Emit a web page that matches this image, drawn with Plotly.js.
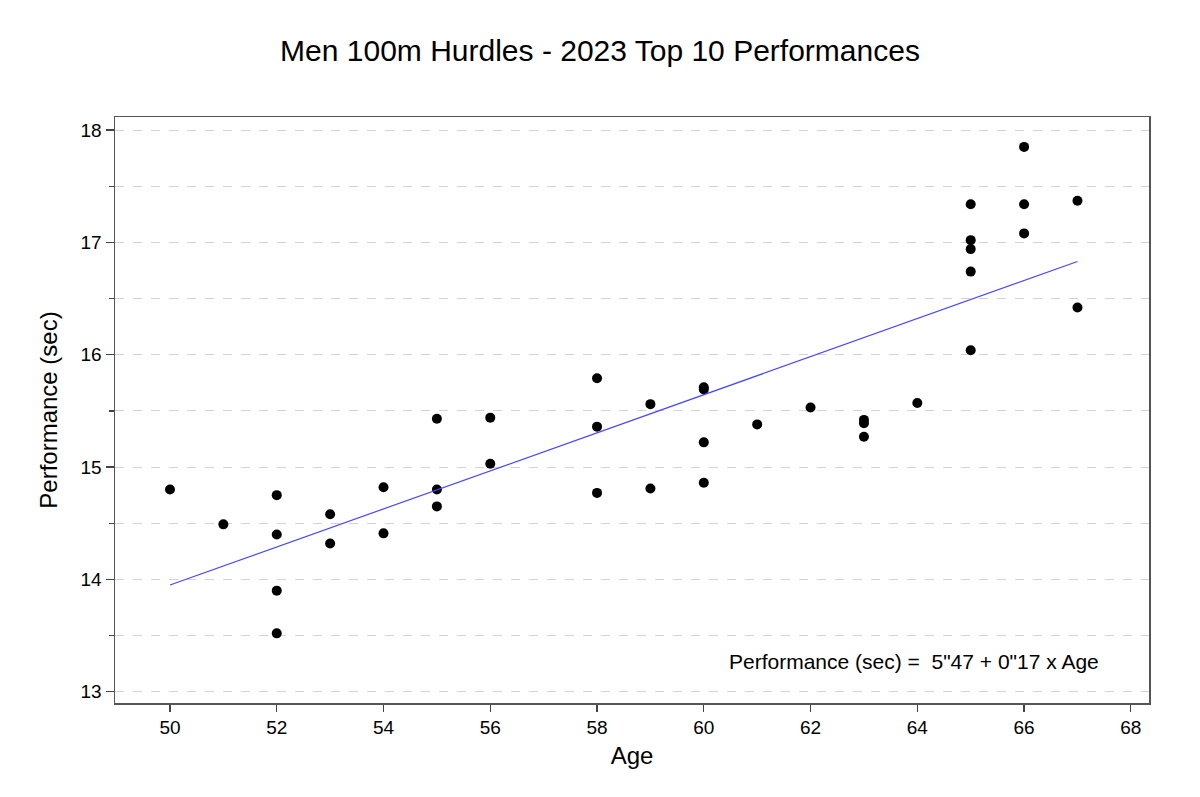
<!DOCTYPE html>
<html>
<head>
<meta charset="utf-8">
<script src="https://cdn.plot.ly/plotly-3.0.1.min.js"></script>
<style>html,body{margin:0;padding:0;background:#fff;}#chart{width:1200px;height:797px;}</style>
</head>
<body>
<div id="chart"></div>
<script>
// Data
const ages = [50, 51, 52, 52, 52, 52, 53, 53, 54, 54, 55, 55, 55, 56, 56,
              58, 58, 58, 59, 59, 60, 60, 60, 60, 61, 62, 63, 63, 63, 64,
              65, 65, 65, 65, 65, 66, 66, 66, 67, 67];
const performances = [14.80, 14.49, 14.75, 14.40, 13.90, 13.52, 14.58, 14.32, 14.82, 14.41,
                      15.43, 14.80, 14.65, 15.44, 15.03,
                      15.79, 15.36, 14.77, 15.56, 14.81,
                      15.71, 15.22, 14.86, 15.69, 15.38, 15.53, 15.42, 15.39, 15.27, 15.57,
                      17.34, 17.02, 16.94, 16.74, 16.04, 17.85, 17.34, 17.08, 17.37, 16.42];
const fitAges = [50, 67];
const fitPerf = [13.95, 16.83];
const xTicks = [50, 52, 54, 56, 58, 60, 62, 64, 66, 68];
const yTicks = [13, 14, 15, 16, 17, 18];
const equationText = 'Performance (sec) =  5"47 + 0"17 x Age';

const font = 'Liberation Sans, Arial, sans-serif';

const traces = [
  {
    x: ages, y: performances, type: 'scatter', mode: 'markers',
    marker: {color: '#000000', size: 10},
    hoverinfo: 'x+y', showlegend: false
  },
  {
    x: fitAges, y: fitPerf, type: 'scatter', mode: 'lines',
    line: {color: '#4646ff', width: 1.2},
    showlegend: false
  }
];

const layout = {
  width: 1200, height: 797,
  paper_bgcolor: '#ffffff', plot_bgcolor: '#ffffff',
  margin: {l: 115, r: 51, t: 117, b: 94},
  font: {family: font, color: '#000000'},
  title: {
    text: 'Men 100m Hurdles - 2023 Top 10 Performances',
    font: {family: font, size: 30, color: '#000000'},
    x: 0.5, xanchor: 'center', y: 0.937, yanchor: 'middle'
  },
  xaxis: {
    range: [48.97, 68.34],
    tickvals: xTicks, ticktext: xTicks.map(String),
    ticks: 'outside', ticklen: 7, tickwidth: 1.3, tickcolor: '#444',
    showline: true, linecolor: '#555', linewidth: 1.5, mirror: true,
    showgrid: false, zeroline: false,
    tickfont: {family: font, size: 19, color: '#000'},
    title: {text: 'Age', font: {family: font, size: 24, color: '#000'}, standoff: 10}
  },
  yaxis: {
    range: [12.9, 18.116],
    tickvals: yTicks, ticktext: yTicks.map(String),
    ticks: 'outside', ticklen: 8, tickwidth: 1.3, tickcolor: '#444',
    showline: true, linecolor: '#555', linewidth: 1.5, mirror: true,
    showgrid: true, gridcolor: '#d3d3d3', griddash: 'dash', gridwidth: 1,
    zeroline: false,
    minor: {dtick: 0.5, tick0: 0, ticks: 'outside', ticklen: 5, tickwidth: 1.3, tickcolor: '#444',
            showgrid: true, gridcolor: '#d3d3d3', griddash: 'dash', gridwidth: 1},
    tickfont: {family: font, size: 19, color: '#000'},
    title: {text: 'Performance (sec)', font: {family: font, size: 24, color: '#000'}, standoff: 16}
  },
  annotations: [
    {
      x: 67.45, y: 13.27, xref: 'x', yref: 'y',
      xanchor: 'right', yanchor: 'middle',
      text: equationText, showarrow: false,
      font: {family: font, size: 21, color: '#000'}
    }
  ]
};

Plotly.newPlot('chart', traces, layout, {displayModeBar: false, staticPlot: true});
</script>
</body>
</html>
